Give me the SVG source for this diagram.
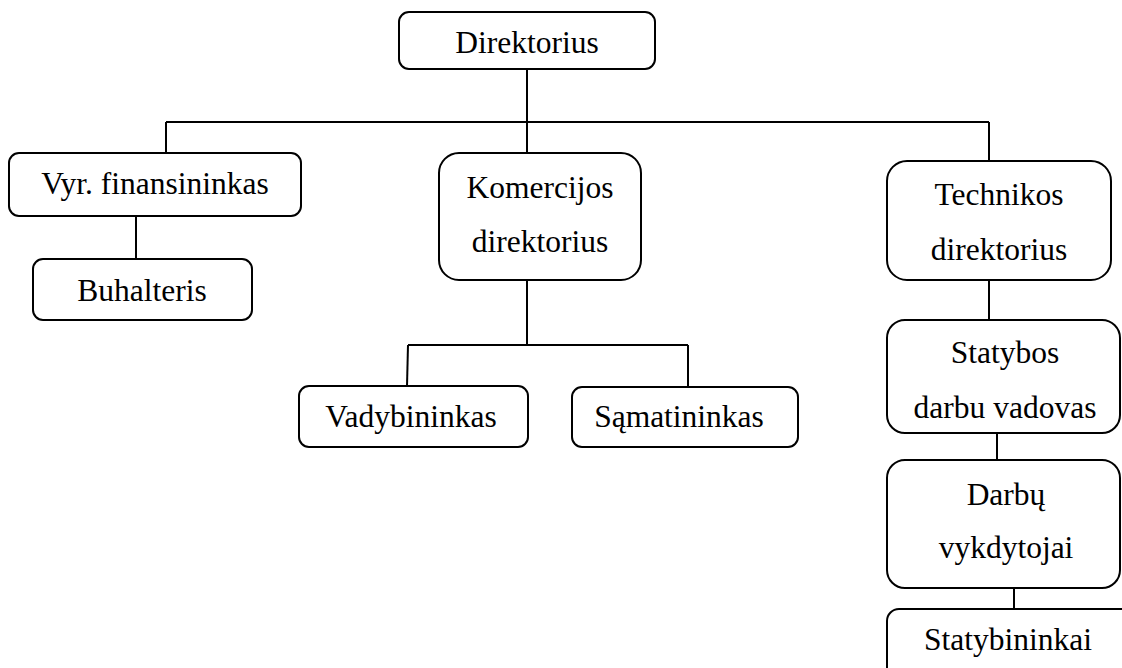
<svg xmlns="http://www.w3.org/2000/svg" width="1122" height="668" viewBox="0 0 1122 668">
<style>
.box{fill:#fff;stroke:#000;stroke-width:2}
.t{font-family:"Liberation Serif","Times New Roman",serif;font-size:31.5px;fill:#000;text-anchor:middle}
.c{stroke:#000;stroke-width:2;fill:none}
</style>
<rect width="1122" height="668" fill="#fff"/>
<g id="connectors">
<line class="c" x1="527" y1="69" x2="527" y2="153"/>
<line class="c" x1="166" y1="122" x2="989" y2="122"/>
<line class="c" x1="166" y1="122" x2="166" y2="153"/>
<line class="c" x1="989" y1="122" x2="989" y2="161"/>
<line class="c" x1="136" y1="216" x2="136" y2="259"/>
<line class="c" x1="527" y1="280" x2="527" y2="345"/>
<line class="c" x1="408" y1="345" x2="688" y2="345"/>
<line class="c" x1="408" y1="345" x2="407" y2="386"/>
<line class="c" x1="688" y1="345" x2="688" y2="387"/>
<line class="c" x1="989" y1="280" x2="989" y2="320"/>
<line class="c" x1="997" y1="433" x2="997" y2="460"/>
<line class="c" x1="1014" y1="588" x2="1014" y2="609"/>
</g>
<g id="direktorius"><rect class="box" x="399" y="12" width="256" height="57" rx="10"/><text class="t" x="527" y="53">Direktorius</text></g>
<g id="vyr-finansininkas"><rect class="box" x="9" y="153" width="292" height="63" rx="10"/><text class="t" x="155" y="194">Vyr. finansininkas</text></g>
<g id="buhalteris"><rect class="box" x="33" y="259" width="219" height="61" rx="10"/><text class="t" x="142" y="301">Buhalteris</text></g>
<g id="komercijos"><rect class="box" x="439" y="153" width="202" height="127" rx="20"/><text class="t" x="540" y="198">Komercijos</text><text class="t" x="540" y="252">direktorius</text></g>
<g id="vadybininkas"><rect class="box" x="299" y="386" width="229" height="61" rx="10"/><text class="t" x="411" y="427">Vadybininkas</text></g>
<g id="samatininkas"><rect class="box" x="572" y="387" width="226" height="60" rx="10"/><text class="t" x="679" y="427">Sąmatininkas</text></g>
<g id="technikos"><rect class="box" x="887" y="161" width="224" height="119" rx="20"/><text class="t" x="999" y="205">Technikos</text><text class="t" x="999" y="260">direktorius</text></g>
<g id="statybos"><rect class="box" x="887" y="320" width="233" height="113" rx="18"/><text class="t" x="1005" y="363">Statybos</text><text class="t" x="1005" y="418">darbu vadovas</text></g>
<g id="darbu-vykdytojai"><rect class="box" x="887" y="460" width="233" height="128" rx="18"/><text class="t" x="1006" y="505">Darbų</text><text class="t" x="1006" y="558">vykdytojai</text></g>
<g id="statybininkai"><rect class="box" x="887" y="609" width="260" height="80" rx="12"/><text class="t" x="1008" y="650">Statybininkai</text></g>
</svg>
